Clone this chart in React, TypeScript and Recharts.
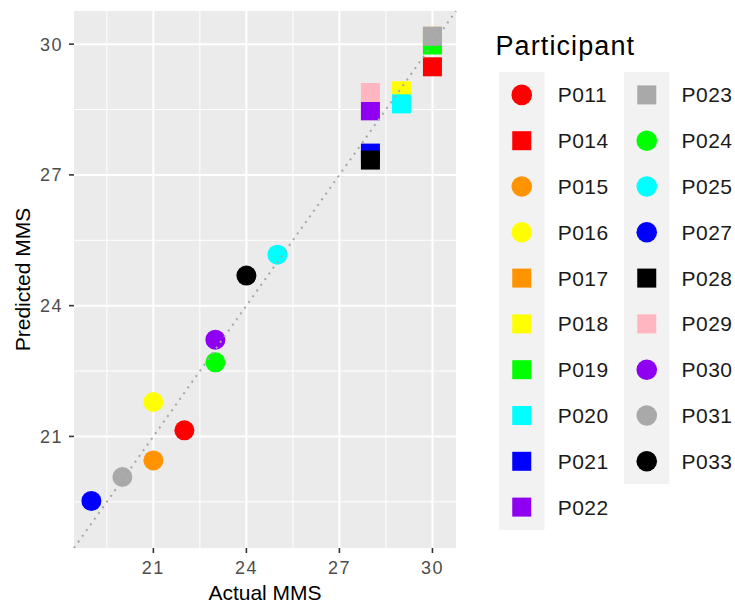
import React from 'react';
import { ScatterChart, Scatter, XAxis, YAxis, CartesianGrid, ReferenceLine } from 'recharts';

// ---- data ----
const participants = ['P011', 'P014', 'P015', 'P016', 'P017', 'P018', 'P019', 'P020', 'P021', 'P022', 'P023', 'P024', 'P025', 'P027', 'P028', 'P029', 'P030', 'P031', 'P033'];
const shapes = ['circle', 'square', 'circle', 'circle', 'square', 'square', 'square', 'square', 'square', 'square', 'square', 'circle', 'circle', 'circle', 'square', 'square', 'circle', 'circle', 'circle'];
const colors = ['#FF0000', '#FF0000', '#FF9400', '#FFFF00', '#FF9400', '#FFFF00', '#00FF00', '#00FFFF', '#0000FF', '#8F00F2', '#A9A9A9', '#00FF00', '#00FFFF', '#0000FF', '#000000', '#FFB6C1', '#8F00F2', '#A9A9A9', '#000000'];
const actualMMS = [22, 30, 21, 21, 30, 29, 30, 29, 28, 28, 30, 23, 25, 19, 28, 28, 23, 20, 24];
const predictedMMS = [21.14, 29.48, 20.45, 21.79, 30.18, 28.93, 29.98, 28.63, 27.5, 28.47, 30.18, 22.7, 25.17, 19.52, 27.34, 28.89, 23.22, 20.07, 24.69];

const majorTicks = [21, 24, 27, 30];
const minorTicks = [19.5, 22.5, 25.5, 28.5];
const AXIS_MIN = 18.44;
const AXIS_MAX = 30.76;

const legendCol1 = participants.slice(0, 10);
const legendCol2 = participants.slice(10);

const FONT = '"Liberation Sans", Arial, Helvetica, sans-serif';

const makeShape = (shape: string, color: string) => (props: any) => {
  const { cx, cy } = props;
  if (cx == null || cy == null) return <g />;
  if (shape === 'square') {
    return <rect x={cx - 9.5} y={cy - 9.5} width={19} height={19} fill={color} />;
  }
  return <circle cx={cx} cy={cy} r={10} fill={color} />;
};

const LegendSymbol = ({ shape, color, cx, cy }: any) =>
  shape === 'square' ? (
    <rect x={cx - 9.5} y={cy - 9.5} width={19} height={19} fill={color} />
  ) : (
    <circle cx={cx} cy={cy} r={10.3} fill={color} />
  );

const ROW_H = 45.8;
const KEY_TOP = 72;

const LegendBox = () => {
  const renderCol = (ids: string[], bgX: number, labelX: number) => (
    <g>
      <rect x={bgX} y={KEY_TOP} width={45.5} height={ids.length * ROW_H} fill="#F2F2F2" />
      {ids.map((id, i) => {
        const idx = participants.indexOf(id);
        const cy = KEY_TOP + ROW_H / 2 + i * ROW_H;
        return (
          <g key={id}>
            <LegendSymbol shape={shapes[idx]} color={colors[idx]} cx={bgX + 22.75} cy={cy} />
            <text x={labelX} y={cy + 7.5} fontSize={21} fontFamily={FONT} fill="#1a1a1a" letterSpacing={0.5}>
              {id}
            </text>
          </g>
        );
      })}
    </g>
  );
  return (
    <svg width={245} height={560} style={{ position: 'absolute', left: 490, top: 0 }}>
      <text x={5.5} y={55} fontSize={27} fontFamily={FONT} fill="#000" letterSpacing={1.1}>
        Participant
      </text>
      {renderCol(legendCol1, 9, 67.7)}
      {renderCol(legendCol2, 134, 191.5)}
    </svg>
  );
};

const XLabel = (props: any) => {
  const vb = props.viewBox || {};
  return (
    <text x={vb.x + vb.width / 2} y={600} textAnchor="middle" fontSize={21} fontFamily={FONT} fill="#000">
      Actual MMS
    </text>
  );
};

const YLabel = (props: any) => {
  const vb = props.viewBox || {};
  const cy = vb.y + vb.height / 2;
  return (
    <text
      x={29.5}
      y={cy}
      transform={`rotate(-90, 29.5, ${cy})`}
      textAnchor="middle"
      fontSize={21}
      fontFamily={FONT}
      fill="#000"
    >
      Predicted MMS
    </text>
  );
};

export default function App() {
  const tickStyle = { fill: '#4D4D4D', fontSize: 18, fontFamily: FONT, letterSpacing: 1.5 };
  return (
    <div style={{ position: 'absolute', left: 0, top: 0, width: 735, height: 605, background: '#fff' }}>
      <ScatterChart width={735} height={605} margin={{ top: 11, right: 279, bottom: 0, left: 0 }}>
        <CartesianGrid
          fill="#EBEBEB"
          stroke="#FFFFFF"
          strokeWidth={1}
          horizontalValues={minorTicks}
          verticalValues={minorTicks}
        />
        <CartesianGrid
          stroke="#FFFFFF"
          strokeWidth={2}
          horizontalValues={majorTicks}
          verticalValues={majorTicks}
        />
        <XAxis
          type="number"
          dataKey="x"
          domain={[AXIS_MIN, AXIS_MAX]}
          allowDataOverflow
          ticks={majorTicks}
          height={57}
          axisLine={false}
          tickLine={{ stroke: '#333333', strokeWidth: 1.6 }}
          tickSize={5}
          tickMargin={8}
          tick={tickStyle}
          label={<XLabel />}
        />
        <YAxis
          type="number"
          dataKey="y"
          domain={[AXIS_MIN, AXIS_MAX]}
          allowDataOverflow
          ticks={majorTicks}
          width={74}
          axisLine={false}
          tickLine={{ stroke: '#333333', strokeWidth: 1.6 }}
          tickSize={5}
          tickMargin={6}
          tick={tickStyle}
          label={<YLabel />}
        />
        {participants.map((id, i) => (
          <Scatter
            key={id}
            name={id}
            data={[{ x: actualMMS[i], y: predictedMMS[i] }]}
            fill={colors[i]}
            shape={makeShape(shapes[i], colors[i])}
            isAnimationActive={false}
          />
        ))}
        <ReferenceLine
          segment={[
            { x: AXIS_MIN, y: AXIS_MIN },
            { x: AXIS_MAX, y: AXIS_MAX },
          ]}
          stroke="#A6A6A6"
          strokeWidth={2}
          strokeDasharray="2 5"
          ifOverflow="visible"
          zIndex={1000}
        />
      </ScatterChart>
      <LegendBox />
    </div>
  );
}
